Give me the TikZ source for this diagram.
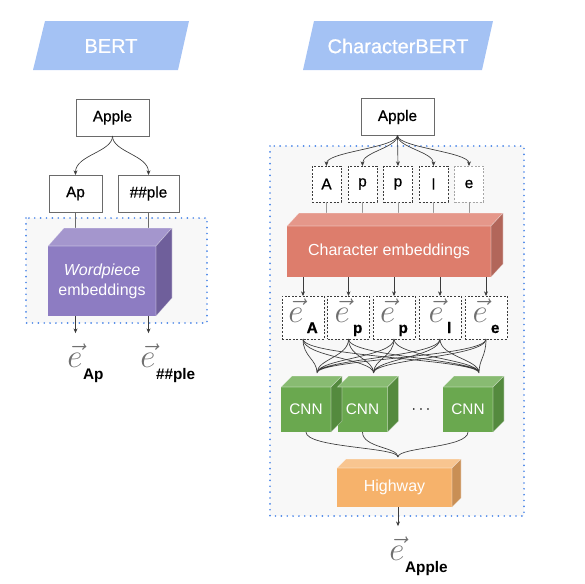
\documentclass[tikz,border=0pt]{standalone}
\usepackage{fontspec}
\setmainfont{Liberation Sans}
\newfontfamily\mediumfont{Liberation Sans}[FakeBold=0.7]
\usepackage{xcolor}
\usetikzlibrary{positioning,arrows.meta}

\definecolor{titleblue}{HTML}{A4C2F4}
\definecolor{frameblue}{HTML}{4A86E8}
\definecolor{framebg}{HTML}{F8F8F8}
\definecolor{linegray}{HTML}{3C3C3C}
\definecolor{boxgray}{HTML}{6A6A6A}
\definecolor{egray}{HTML}{707070}
\definecolor{wpfront}{HTML}{8D7CC2}
\definecolor{wptop}{HTML}{A496CD}
\definecolor{wpside}{HTML}{6F5F9B}
\definecolor{cefront}{HTML}{DD7D6C}
\definecolor{cetop}{HTML}{E5978A}
\definecolor{ceside}{HTML}{B2665A}
\definecolor{cnnfront}{HTML}{6AA84F}
\definecolor{cnntop}{HTML}{88BB72}
\definecolor{cnnside}{HTML}{548A3E}
\definecolor{hwfront}{HTML}{F6B26B}
\definecolor{hwtop}{HTML}{F8C590}
\definecolor{hwside}{HTML}{C98F55}

\begin{document}
\begin{tikzpicture}[x=0.75pt, y=-0.75pt,
  wordbox/.style={draw=boxgray, line width=0.6pt, fill=white, inner sep=0pt, outer sep=0pt, minimum height=27.75pt, font=\fontsize{11.5}{13}\mediumfont},
  charbox/.style={draw=linegray, dash pattern=on 1.5pt off 1.2pt, line width=0.5pt, fill=white, inner sep=0pt, outer sep=0pt, minimum width=21.75pt, minimum height=27pt, font=\fontsize{11.5}{13}\mediumfont},
  ebox/.style={charbox, minimum width=31.5pt, minimum height=32.25pt, text height=15pt, text depth=8.25pt},
  face/.style={inner sep=0pt, outer sep=0pt, text=white, align=center, font=\fontsize{12}{15}\selectfont},
  faceline/.style={draw=white, draw opacity=0.4, line width=0.4pt},
  conn/.style={draw=linegray, line width=0.5pt},
  arr/.style={-{Stealth[length=3.5pt,width=3pt]}},
  dotframe/.style={draw=frameblue, fill=framebg, line width=1.4pt, line cap=round, dash pattern=on 0pt off 4.4pt},
  titletext/.style={text=white, font=\fontsize{15}{18}\mediumfont},
  evec/.style={inner sep=0pt, text=egray, font=\fontsize{25}{25}\selectfont},
  esub/.style={inner sep=0pt, font=\fontsize{11.5}{13}\selectfont\bfseries},
]
\useasboundingbox (0,0) rectangle (585,583);

% Titles
\fill[titleblue] (33,70) -- (45,21) -- (189,21) -- (178,70) -- cycle;
\node[titletext] (bert) at (111,46) {BERT};
\fill[titleblue] (303,70) -- (314,21) -- (493,21) -- (482,70) -- cycle;
\node[titletext] (charbert) at (398,46) {CharacterBERT};

% Dotted frames
\draw[dotframe] (26,218) rectangle (207,323);
\draw[dotframe] (270,146) rectangle (524,516);

% BERT: word and wordpieces
\node[wordbox, minimum width=54.75pt] (bApple) at (112.5,117.5) {Apple};
\node[wordbox, minimum width=39.75pt] (ap) at (75.5,193.5) {Ap};
\node[wordbox, minimum width=45.75pt] (ple) at (148.5,193.5) {\#\#ple};

\draw[conn, arr] (bApple.south) .. controls +(0,16) and +(0,-20) .. (ap.north);
\draw[conn, arr] (bApple.south) .. controls +(0,16) and +(0,-20) .. (ple.north);

% Wordpiece embeddings cube
\node[face, fill=wpfront, minimum width=81pt, minimum height=52.5pt] (wp) at (102,281) {\textit{Wordpiece}\\embeddings};
\draw[conn, draw=boxgray] (ap.south) -- (ap.south |- wp.north);
\draw[conn, draw=boxgray] (ple.south) -- (ple.south |- wp.north);
\fill[wptop, faceline] (wp.north west) -- ([shift={(16,-18)}]wp.north west) -- ([shift={(16,-18)}]wp.north east) -- (wp.north east) -- cycle;
\fill[wpside, faceline] (wp.north east) -- ([shift={(16,-18)}]wp.north east) -- ([shift={(16,-18)}]wp.south east) -- (wp.south east) -- cycle;

% BERT outputs
\node[evec, anchor=base] (eAp) at (75,367) {$\vec{e}$};
\node[esub, below right=1pt and 0pt of eAp] (eApsub) {Ap};
\node[evec, anchor=base] (eple) at (148,367) {$\vec{e}$};
\node[esub, below right=1pt and 0pt of eple] (eplesub) {\#\#ple};
\draw[conn, arr, shorten >=7.5pt] (ap.south |- wp.south) -- (ap.south |- eAp.north);
\draw[conn, arr, shorten >=7.5pt] (ple.south |- wp.south) -- (ple.south |- eple.north);

% CharacterBERT: word and characters
\node[wordbox, minimum width=54.75pt] (cApple) at (397.5,117) {Apple};
\node[charbox] (chA) at (326.5,184) {A};
\node[charbox] (chp1) at (362.5,184) {p};
\node[charbox] (chp2) at (398,184) {p};
\node[charbox] (chl) at (433.5,184) {l};
\node[charbox, draw=black!35] (che) at (469,184) {e};

\draw[conn, arr] (cApple.south) .. controls +(0,12) and +(0,-14) .. (chA.north);
\draw[conn, arr] (cApple.south) .. controls +(0,12) and +(0,-14) .. (chp1.north);
\draw[conn, arr] (cApple.south) -- (chp2.north);
\draw[conn, arr] (cApple.south) .. controls +(0,12) and +(0,-14) .. (chl.north);
\draw[conn, arr] (cApple.south) .. controls +(0,12) and +(0,-14) .. (che.north);

% Character embeddings cube
\node[face, fill=cefront, minimum width=153pt, minimum height=38.25pt] (charemb) at (389,251.5) {Character embeddings};
\draw[conn, draw=black!40] (chA.south) -- (chA.south |- charemb.north);
\draw[conn, draw=black!40] (chp1.south) -- (chp1.south |- charemb.north);
\draw[conn, draw=black!40] (chp2.south) -- (chp2.south |- charemb.north);
\draw[conn, draw=black!40] (chl.south) -- (chl.south |- charemb.north);
\draw[conn, draw=black!40] (che.south) -- (che.south |- charemb.north);
\fill[cetop, faceline] (charemb.north west) -- ([shift={(12,-13)}]charemb.north west) -- ([shift={(12,-13)}]charemb.north east) -- (charemb.north east) -- cycle;
\fill[ceside, faceline] (charemb.north east) -- ([shift={(12,-13)}]charemb.north east) -- ([shift={(12,-13)}]charemb.south east) -- (charemb.south east) -- cycle;

% Character vectors
\node[ebox] (eA) at (303,317.5) {{\color{egray}\fontsize{25}{25}\selectfont$\vec{e}$}\hspace{2.5pt}\raisebox{-8.25pt}{\bfseries A}};
\node[ebox] (ep1) at (348.5,317.5) {{\color{egray}\fontsize{25}{25}\selectfont$\vec{e}$}\hspace{2.5pt}\raisebox{-8.25pt}{\bfseries p}};
\node[ebox] (ep2) at (394,317.5) {{\color{egray}\fontsize{25}{25}\selectfont$\vec{e}$}\hspace{2.5pt}\raisebox{-8.25pt}{\bfseries p}};
\node[ebox] (el) at (440,317.5) {{\color{egray}\fontsize{25}{25}\selectfont$\vec{e}$}\hspace{2.5pt}\raisebox{-8.25pt}{\bfseries l}};
\node[ebox] (ee) at (486,317.5) {{\color{egray}\fontsize{25}{25}\selectfont$\vec{e}$}\hspace{2.5pt}\raisebox{-8.25pt}{\bfseries e}};

\draw[conn, arr] (eA.north |- charemb.south) -- (eA.north);
\draw[conn, arr] (ep1.north |- charemb.south) -- (ep1.north);
\draw[conn, arr] (ep2.north |- charemb.south) -- (ep2.north);
\draw[conn, arr] (el.north |- charemb.south) -- (el.north);
\draw[conn, arr] (ee.north |- charemb.south) -- (ee.north);

% CNN cubes
\node[face, fill=cnnfront, minimum width=37.5pt, minimum height=33.75pt, font=\fontsize{11.5}{13}\selectfont] (cnn1) at (306,409.5) {CNN};
\node[face, fill=cnnfront, minimum width=37.5pt, minimum height=33.75pt, font=\fontsize{11.5}{13}\selectfont] (cnn2) at (362.5,409.5) {CNN};
\node[face, fill=cnnfront, minimum width=37.5pt, minimum height=33.75pt, font=\fontsize{11.5}{13}\selectfont] (cnn3) at (468,409.5) {CNN};
\node[inner sep=0pt, font=\fontsize{12}{13}\selectfont] (dots) at (421,410) {$\cdots$};

\fill[cnntop, faceline] (cnn1.north west) -- ([shift={(11,-11)}]cnn1.north west) -- ([shift={(11,-11)}]cnn1.north east) -- (cnn1.north east) -- cycle;
\fill[cnnside, faceline] (cnn1.north east) -- ([shift={(11,-11)}]cnn1.north east) -- ([shift={(11,-11)}]cnn1.south east) -- (cnn1.south east) -- cycle;
\fill[cnntop, faceline] (cnn2.north west) -- ([shift={(11,-11)}]cnn2.north west) -- ([shift={(11,-11)}]cnn2.north east) -- (cnn2.north east) -- cycle;
\fill[cnnside, faceline] (cnn2.north east) -- ([shift={(11,-11)}]cnn2.north east) -- ([shift={(11,-11)}]cnn2.south east) -- (cnn2.south east) -- cycle;
\fill[cnntop, faceline] (cnn3.north west) -- ([shift={(11,-11)}]cnn3.north west) -- ([shift={(11,-11)}]cnn3.north east) -- (cnn3.north east) -- cycle;
\fill[cnnside, faceline] (cnn3.north east) -- ([shift={(11,-11)}]cnn3.north east) -- ([shift={(11,-11)}]cnn3.south east) -- (cnn3.south east) -- cycle;

\coordinate (cin1) at ([shift={(11,-14)}]cnn1.north);
\coordinate (cin2) at ([shift={(11,-14)}]cnn2.north);
\coordinate (cin3) at ([shift={(11,-14)}]cnn3.north);

% every character vector goes to every CNN
\draw[conn] (eA.south) .. controls +(0,18) and +(0,-14) .. (cin1)
            (ep1.south) .. controls +(0,18) and +(0,-14) .. (cin1)
            (ep2.south) .. controls +(0,18) and +(0,-14) .. (cin1)
            (el.south) .. controls +(0,18) and +(0,-14) .. (cin1)
            (ee.south) .. controls +(0,18) and +(0,-14) .. (cin1);
\draw[conn] (eA.south) .. controls +(0,18) and +(0,-14) .. (cin2)
            (ep1.south) .. controls +(0,18) and +(0,-14) .. (cin2)
            (ep2.south) .. controls +(0,18) and +(0,-14) .. (cin2)
            (el.south) .. controls +(0,18) and +(0,-14) .. (cin2)
            (ee.south) .. controls +(0,18) and +(0,-14) .. (cin2);
\draw[conn] (eA.south) .. controls +(0,18) and +(0,-14) .. (cin3)
            (ep1.south) .. controls +(0,18) and +(0,-14) .. (cin3)
            (ep2.south) .. controls +(0,18) and +(0,-14) .. (cin3)
            (el.south) .. controls +(0,18) and +(0,-14) .. (cin3)
            (ee.south) .. controls +(0,18) and +(0,-14) .. (cin3);

% Highway cube
\node[face, fill=hwfront, minimum width=86.25pt, minimum height=29.25pt] (hw) at (394.5,487.5) {Highway};
\fill[hwtop, faceline] (hw.north west) -- ([shift={(9,-9)}]hw.north west) -- ([shift={(9,-9)}]hw.north east) -- (hw.north east) -- cycle;
\fill[hwside, faceline] (hw.north east) -- ([shift={(9,-9)}]hw.north east) -- ([shift={(9,-9)}]hw.south east) -- (hw.south east) -- cycle;
\coordinate (hwin) at ([shift={(3.5,-11)}]hw.north);

\draw[conn] (cnn1.south) .. controls +(0,16) and +(0,-10) .. (hwin);
\draw[conn] (cnn2.south) .. controls +(0,16) and +(0,-10) .. (hwin);
\draw[conn] (cnn3.south) .. controls +(0,16) and +(0,-10) .. (hwin);

% CharacterBERT output
\node[evec, anchor=base] (eApple) at (397,560) {$\vec{e}$};
\node[esub, below right=1pt and 0pt of eApple] (eApplesub) {Apple};
\draw[conn, arr, shorten >=7.5pt] (hwin |- hw.south) -- (hwin |- eApple.north);

\end{tikzpicture}
\end{document}
